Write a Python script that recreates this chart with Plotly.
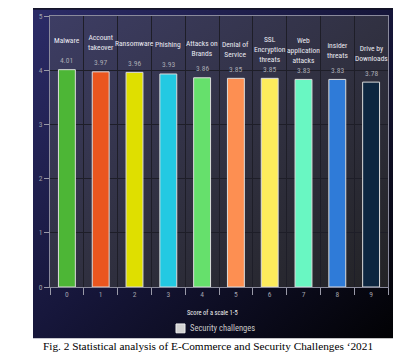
import base64
import plotly.graph_objects as go

# ---- data ----
categories = ["Malware", "Account<br>takeover", "Ransomware", "Phishing",
              "Attacks on<br>Brands", "Denial of<br>Service",
              "SSL<br>Encryption<br>threats", "Web<br>application<br>attacks",
              "insider<br>threats", "Drive by<br>Downloads"]
scores = [4.01, 3.97, 3.96, 3.93, 3.86, 3.85, 3.85, 3.83, 3.83, 3.78]
x_ticks = ["0", "1", "2", "3", "4", "5", "6", "7", "8", "9"]
y_ticks = [0, 1, 2, 3, 4, 5]
bar_colors = ["#4db636", "#ea561f", "#dfdf00", "#23c9e2", "#66e06c",
              "#fd8f52", "#fdec5c", "#69f7c2", "#2f7bd8", "#0d2640"]
x_title = "Score of a scale 1-5"
legend_name = "Security challenges"
caption = "Fig. 2 Statistical analysis of E-Commerce and Security Challenges \u20182021"

# ---- geometry (pixels) ----
W, H = 416, 362
L, R, T, B = 50, 388, 12, 287
PW, PH = R - L, B - T


def px(x):
    return (x - L) / PW


def py(y):
    return (B - y) / PH


svg = f'''<svg xmlns="http://www.w3.org/2000/svg" width="{W}" height="{H}" viewBox="0 0 {W} {H}">
<defs>
<linearGradient id="pg" x1="0" y1="0" x2="1" y2="1">
<stop offset="0" stop-color="#2c2c68"/>
<stop offset="0.5" stop-color="#16163a"/>
<stop offset="1" stop-color="#020204"/>
</linearGradient>
<linearGradient id="ag" x1="0" y1="0" x2="1" y2="1">
<stop offset="0" stop-color="#3d3d64"/>
<stop offset="0.5" stop-color="#313142"/>
<stop offset="1" stop-color="#232326"/>
</linearGradient>
</defs>
<rect x="0" y="0" width="{W}" height="{H}" fill="#ffffff"/>
<rect x="33" y="4" width="360" height="335" fill="url(#pg)"/>
<rect x="33" y="4" width="360" height="1.5" fill="#101020"/>
<rect x="{L}" y="{T}" width="{PW}" height="{PH}" fill="url(#ag)"/>
</svg>'''
src = "data:image/svg+xml;base64," + base64.b64encode(svg.encode()).decode()

fig = go.Figure()
fig.add_trace(go.Bar(
    x=x_ticks, y=scores, width=0.5,
    marker=dict(color=bar_colors, line=dict(color="#dcdcdc", width=1)),
    hoverinfo="skip", showlegend=False,
))

narrow = "Liberation Sans Narrow, Roboto Condensed, DejaVu Sans Condensed, sans-serif"
annotations = []
for xc, name, v in zip(x_ticks, categories, scores):
    annotations.append(dict(x=xc, y=v, xref="x", yref="y", text=f"{v:.2f}",
                            showarrow=False, yshift=9, yanchor="middle",
                            font=dict(family=narrow, size=7.5, color="#a9a9b2")))
    annotations.append(dict(x=xc, y=v, xref="x", yref="y", text=name,
                            showarrow=False, yshift=29, yanchor="middle",
                            font=dict(family=narrow, size=7.5, color="#eaeaf2")))

annotations.append(dict(x=px(212), y=py(313), xref="paper", yref="paper",
                        text=x_title, showarrow=False, xanchor="center", yanchor="middle",
                        font=dict(family=narrow, size=6.5, color="#f0f0f0")))
annotations.append(dict(x=px(188), y=py(329), xref="paper", yref="paper",
                        text=legend_name, showarrow=False, xanchor="left", yanchor="middle",
                        font=dict(family=narrow, size=8.5, color="#c8c8c8")))
annotations.append(dict(x=px(208), y=py(347), xref="paper", yref="paper",
                        text=caption, showarrow=False, xanchor="center", yanchor="middle",
                        font=dict(family="Liberation Serif, Times New Roman, serif",
                                  size=11.3, color="#000000")))

shapes = [dict(type="rect", xref="paper", yref="paper",
               x0=px(176), x1=px(185), y0=py(333.5), y1=py(324.5),
               fillcolor="#d2d2d2", line=dict(color="#efefef", width=1))]

fig.update_layout(
    width=W, height=H,
    margin=dict(l=L, r=W - R, t=T, b=H - B),
    paper_bgcolor="#ffffff", plot_bgcolor="rgba(0,0,0,0)",
    images=[dict(source=src, xref="paper", yref="paper",
                 x=px(0), y=py(0), sizex=W / PW, sizey=H / PH,
                 xanchor="left", yanchor="top", sizing="stretch", layer="below")],
    annotations=annotations, shapes=shapes, showlegend=False,
    bargap=0.5,
)
fig.update_xaxes(type="category", categoryorder="array", categoryarray=x_ticks,
                 range=[-0.5, 9.5], tickson="boundaries", ticks="outside", ticklen=7,
                 tickcolor="#9a9aa8", showgrid=True, gridcolor="#1e1e28", gridwidth=1,
                 showline=True, linecolor="#8a8a9c", linewidth=1, mirror=True,
                 tickfont=dict(family=narrow, size=7.5, color="#a0a0aa"), zeroline=False,
                 fixedrange=True)
fig.update_yaxes(range=[0, 5], tickvals=y_ticks, ticks="outside", ticklen=5,
                 tickcolor="#9a9aa8", showgrid=True, gridcolor="#1e1e28", gridwidth=1,
                 showline=True, linecolor="#8a8a9c", linewidth=1, mirror=True,
                 tickfont=dict(family=narrow, size=7.5, color="#a0a0aa"), zeroline=False,
                 fixedrange=True)

fig.write_html("out.html", config={"displayModeBar": False},
               post_script="document.body.style.margin='0';document.body.style.overflow='hidden';")
